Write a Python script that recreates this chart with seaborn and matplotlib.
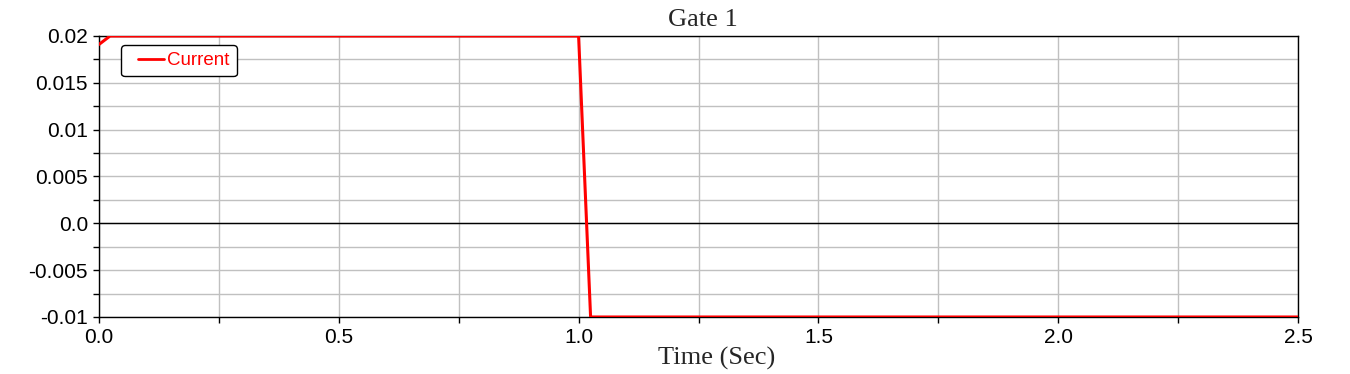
import numpy as np
import pandas as pd
import seaborn as sns
import matplotlib
matplotlib.use('Agg')
import matplotlib.pyplot as plt
from matplotlib.ticker import MultipleLocator, FixedFormatter, FixedLocator

# Data
time_sec = [0.0, 0.023, 1.0, 1.025, 2.5]
current = [0.0191, 0.02, 0.02, -0.01, -0.01]

x_ticks = [0.0, 0.5, 1.0, 1.5, 2.0, 2.5]
x_tick_labels = ['0.0', '0.5', '1.0', '1.5', '2.0', '2.5']
y_ticks = [-0.01, -0.005, 0.0, 0.005, 0.01, 0.015, 0.02]
y_tick_labels = ['-0.01', '-0.005', '0.0', '0.005', '0.01', '0.015', '0.02']

df = pd.DataFrame({'Time': time_sec, 'Current': current})

sns.set_style('white')
plt.rcParams['font.family'] = ['Liberation Sans', 'DejaVu Sans']

fig = plt.figure(figsize=(13.5, 3.74), dpi=100)
ax = fig.add_axes([99 / 1350, 1 - 317 / 374, 1199 / 1350, 281 / 374])

sns.lineplot(data=df, x='Time', y='Current', color='#ff0000', linewidth=2.2,
             label='Current', ax=ax, zorder=5)

ax.set_xlim(0, 2.5)
ax.set_ylim(-0.01, 0.02)

ax.xaxis.set_major_locator(FixedLocator(x_ticks))
ax.xaxis.set_major_formatter(FixedFormatter(x_tick_labels))
ax.xaxis.set_minor_locator(MultipleLocator(0.25))
ax.yaxis.set_major_locator(FixedLocator(y_ticks))
ax.yaxis.set_major_formatter(FixedFormatter(y_tick_labels))
ax.yaxis.set_minor_locator(MultipleLocator(0.0025))

ax.grid(True, which='both', color='#c0c0c0', linewidth=1.0)
ax.axhline(0, color='black', linewidth=1.0, zorder=3)

ax.tick_params(axis='both', which='both', direction='out', colors='black',
               labelsize=15, length=4, width=1, bottom=True, left=True)
ax.tick_params(axis='x', which='major', pad=4)
ax.tick_params(axis='y', which='major', pad=4)
for s in ax.spines.values():
    s.set_color('black')
    s.set_linewidth(1.0)

ax.set_title('Gate 1', family='Liberation Serif', fontsize=19, pad=7, x=0.504)
ax.set_xlabel('Time (Sec)', family='Liberation Serif', fontsize=19)
ax.xaxis.set_label_coords(0.515, -0.105)
ax.set_ylabel('')

leg = ax.legend(loc='upper left', bbox_to_anchor=(0.0183, 0.968), fontsize=13.5,
                handlelength=1.9, handletextpad=0.2, borderpad=0.38,
                borderaxespad=0.0, frameon=True, fancybox=True, framealpha=1)
leg.get_frame().set_edgecolor('black')
leg.get_frame().set_linewidth(1.0)
for t in leg.get_texts():
    t.set_color('#ff0000')
# the reference legend line starts a bit in from the box edge
for ln in leg.get_lines():
    xd = np.array(ln.get_xdata(), dtype=float)
    yd = np.array(ln.get_ydata(), dtype=float)
    ln.set_data([xd.min() + 7, xd.max()], [yd[0], yd[0]])
    ln.set_linewidth(2.0)

fig.savefig('out.png', dpi=100)
